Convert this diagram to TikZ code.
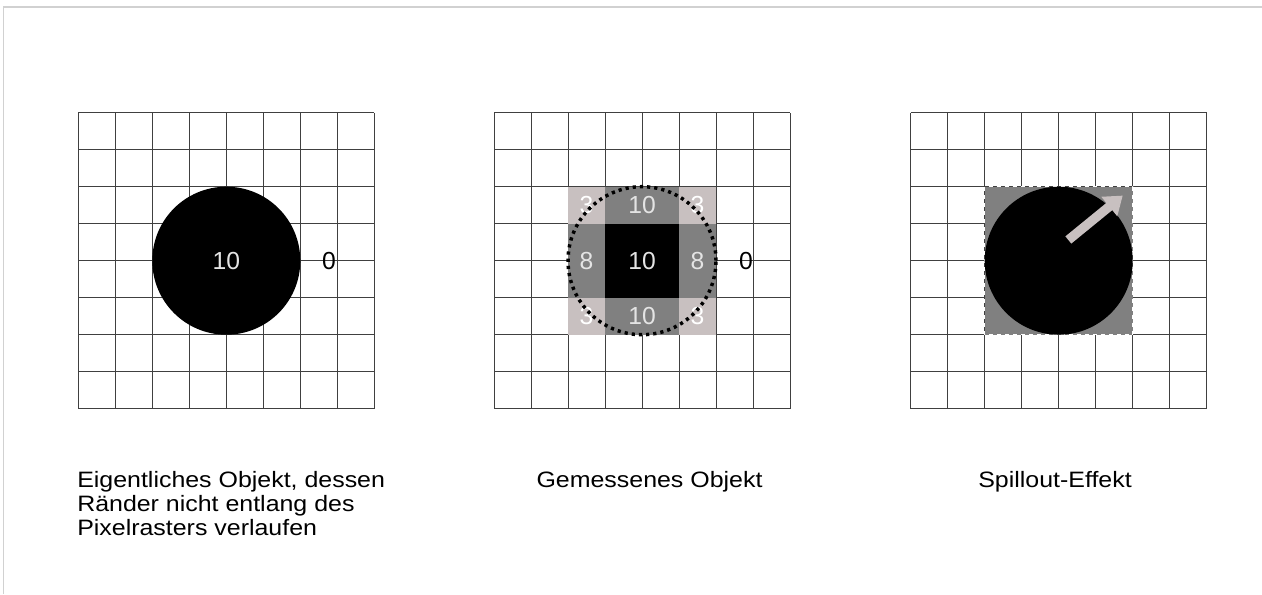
\documentclass[tikz,border=0pt]{standalone}
\usepackage{fontspec}
\setmainfont{Liberation Sans}
\newfontfamily\capfont{Liberation Sans}[FakeStretch=1.12]
\usetikzlibrary{arrows.meta}
\definecolor{lightpix}{HTML}{C8C0C0}
\definecolor{midpix}{HTML}{808080}
\definecolor{numgray}{HTML}{E4E4E4}
\tikzset{
  raster/.style={draw=black!75, line width=0.65pt, step=1},
  val/.style={font=\fontsize{18.5}{18.5}\selectfont, inner sep=0pt},
  caption/.style={font=\capfont\fontsize{16.7}{18}\selectfont, inner sep=0pt, align=left},
  dots/.style={line width=2.6pt, dash pattern=on 2.4pt off 3pt},
  spill/.style={lightpix, line width=7pt, -{Triangle[width=18pt,length=13pt]}},
}

\begin{document}
\begin{tikzpicture}[x=0.75pt,y=0.75pt]
    \useasboundingbox (0,0) rectangle (1262,594);
    \draw[black!18, line width=1.2pt] (3.3,0) -- (3.3,586.7) -- (1262,586.7);

    % actual object
    \begin{scope}[shift={(78.3,185.3)}, x=27.75pt, y=27.75pt]
        \draw[raster] (0,0) grid (8,8);
        \fill (4,4) circle (2);
        \node[val, text=numgray] (n1) at (4,4) {10};
        \node[val, right of=n1, node distance=77pt] (n2) {0};
    \end{scope}

    % measured object
    \begin{scope}[shift={(494,185.3)}, x=27.75pt, y=27.75pt]
        \draw[raster] (0,0) grid (8,8);
        \fill[lightpix] (2,2) rectangle (6,6);
        \fill[midpix] (3,2) rectangle (5,6);
        \fill[midpix] (2,3) rectangle (6,5);
        \fill (3,3) rectangle (5,5);
        \node[val, text=numgray] (n3) at (4,4) {10};
        \node[val, text=numgray, above of=n3, node distance=41.6pt] (n4) {10};
        \node[val, text=numgray, below of=n3, node distance=41.6pt] (n5) {10};
        \node[val, text=numgray, left of=n3, node distance=41.6pt] (n6) {8};
        \node[val, text=numgray, right of=n3, node distance=41.6pt] (n7) {8};
        \node[val, text=white, left of=n4, node distance=41.6pt] (n8) {3};
        \node[val, text=white, right of=n4, node distance=41.6pt] (n9) {3};
        \node[val, text=white, left of=n5, node distance=41.6pt] (n10) {3};
        \node[val, text=white, right of=n5, node distance=41.6pt] (n11) {3};
        \draw[dots] (4,4) circle (2);
        \node[val, right of=n3, node distance=78pt] (n12) {0};
    \end{scope}

    % spillout
    \begin{scope}[shift={(910.7,185.3)}, x=27.75pt, y=27.75pt]
        \draw[raster] (0,0) grid (8,8);
        \filldraw[fill=midpix, draw=white, dashed, line width=0.4pt] (2,2) rectangle (6,6);
        \fill (4,4) circle (2);
        \coordinate (a1) at (4.26,4.56);
        \coordinate (a2) at (5.73,5.76);
        \draw[spill] (a1) -- (a2);
    \end{scope}

    \node[caption, anchor=north west] (n13) at (77,123.3) {Eigentliches Objekt, dessen\\Ränder nicht entlang des\\Pixelrasters verlaufen};
    \node[caption, anchor=north] (n14) at (649.5,123.3) {Gemessenes Objekt};
    \node[caption, anchor=north] (n15) at (1055,123.3) {Spillout-Effekt};
\end{tikzpicture}
\end{document}
